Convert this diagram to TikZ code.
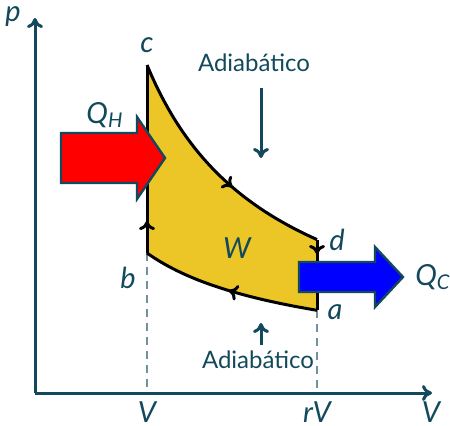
\documentclass[tikz,border=0pt]{standalone}
\usepackage{fontspec}
\setmainfont{Lato}
\usetikzlibrary{arrows.meta,decorations.markings}
\definecolor{tealdark}{HTML}{12495C}
\definecolor{cyclefill}{HTML}{ECC526}
\tikzset{
  axis/.style={tealdark,line width=1.5pt,-{To[length=5pt,width=8pt]}},
  guide/.style={tealdark!60,line width=0.6pt,dash pattern=on 4pt off 3pt},
  stroke/.style={black,line width=1.5pt},
  midarrow/.style={postaction={decorate},decoration={markings,
    mark=at position #1 with {\arrow{To[length=4.5pt,width=8pt]}}}},
  heatarrow/.style={draw=tealdark,line width=1.2pt,line join=miter},
  lbl/.style={text=tealdark,font=\fontsize{14.5}{16}\selectfont\itshape},
  adlbl/.style={text=tealdark,font=\fontsize{12}{14}\selectfont},
}
\begin{document}
\begin{tikzpicture}[x=0.5pt,y=-0.5pt]
	\useasboundingbox (0,0) rectangle (450,425);
	\coordinate (o) at (35,393);
	\coordinate (a) at (317,310);
	\coordinate (b) at (147,253);
	\coordinate (c) at (147,65);
	\coordinate (d) at (317,240);
	% cycle
	\fill[cyclefill] plot[domain=147:317,samples=40] (\x,{393-328*(112/(\x-35))^0.823})
		-- (a) -- plot[domain=317:147,samples=40] (\x,{393-140*(112/(\x-35))^0.57}) -- cycle;
	\draw[guide] (b) -- (b |- o);
	\draw[guide] (a) -- (a |- o);
	\draw[stroke,midarrow=0.6] plot[domain=147:317,samples=40] (\x,{393-328*(112/(\x-35))^0.823});
	\draw[stroke,midarrow=0.2] (d) -- (a);
	\draw[stroke,midarrow=0.5] plot[domain=317:147,samples=40] (\x,{393-140*(112/(\x-35))^0.57});
	\draw[stroke,midarrow=0.17] (b) -- (c);
	% axes
	\draw[axis] (o) -- (35,18);
	\draw[axis] (o) -- (432,393);
	% heat
	\draw[heatarrow,fill=red] (61,133) -- (137,133) -- (137,117) -- (165,158)
		-- (137,199) -- (137,183) -- (61,183) -- cycle;
	\draw[heatarrow,fill=blue] (299,262) -- (375,262) -- (375,247) -- (403,277)
		-- (375,307) -- (375,292) -- (299,292) -- cycle;
	% labels
	\node[lbl] (pl) at (13,17) {p};
	\node[lbl] (vl) at (431,412) {V};
	\node[lbl] (v1) at (147,412) {V};
	\node[lbl] (v2) at (317,412) {rV};
	\node[lbl] (cl) at (147,45) {c};
	\node[lbl] (bl) at (128,278) {b};
	\node[lbl] (dl) at (337,240) {d};
	\node[lbl] (al) at (335,312) {a};
	\node[lbl] (wl) at (237,248) {W};
	\node[lbl] (qh) at (105,115) {Q\textsubscript{H}};
	\node[lbl] (qc) at (433,277) {Q\textsubscript{C}};
	\node[adlbl] (ad1) at (254,63) {Adiabático};
	\node[adlbl] (ad2) at (258,360) {Adiabático};
	\coordinate (t1) at (261,88);
	\coordinate (t2) at (261,158);
	\coordinate (u1) at (261,345);
	\coordinate (u2) at (261,323);
	\draw[axis] (t1) -- (t2);
	\draw[axis] (u1) -- (u2);
\end{tikzpicture}
\end{document}
